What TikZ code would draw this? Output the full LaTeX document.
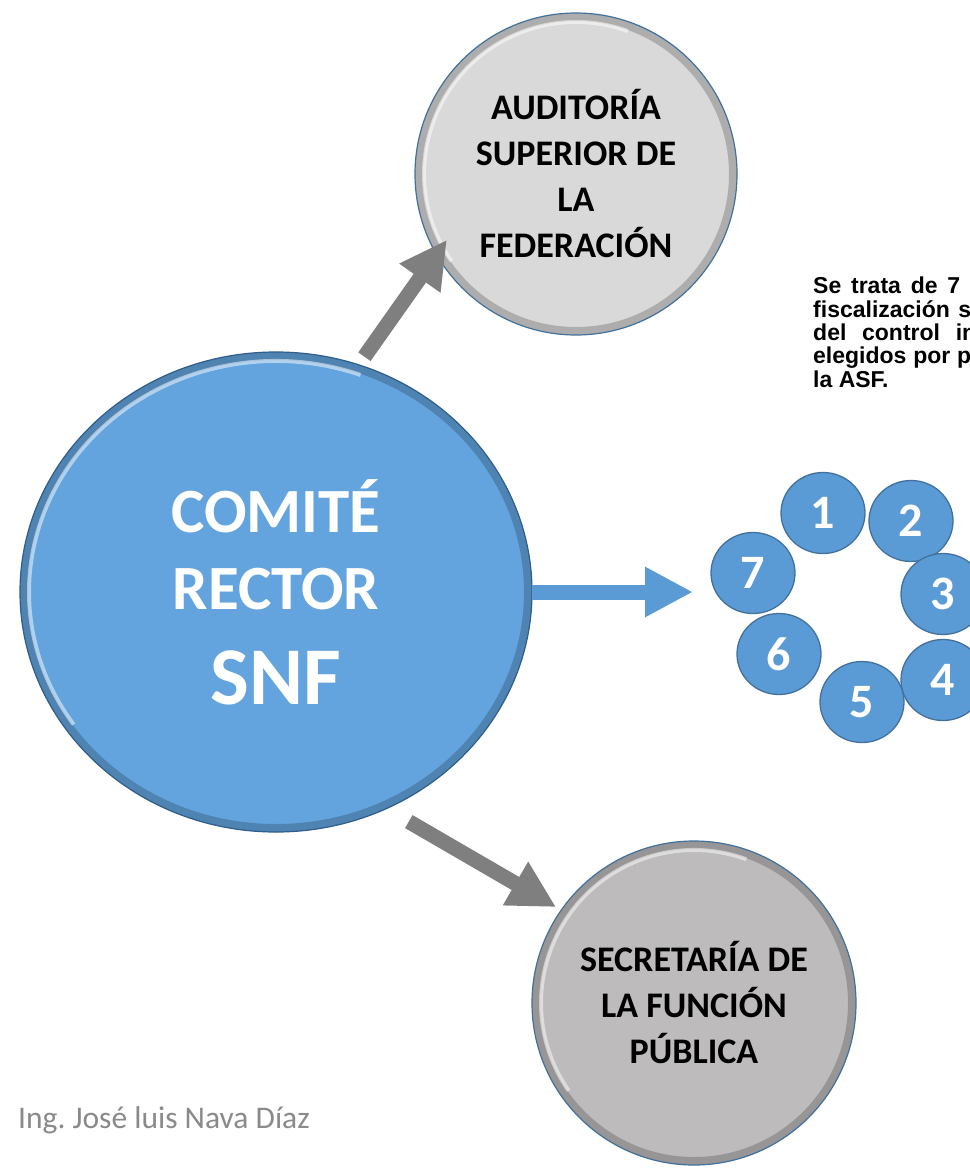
\documentclass[tikz,border=0pt]{standalone}
\usepackage{fontspec}
\setmainfont{Carlito}
\newfontfamily\arialfont{Liberation Sans}
\usetikzlibrary{calc,arrows.meta,positioning,shapes.geometric}

\definecolor{comiteblue}{HTML}{63A4DE}
\definecolor{comiteedge}{HTML}{2F5E8C}
\definecolor{memberblue}{HTML}{5B9BD5}
\definecolor{memberedge}{HTML}{41719C}
\definecolor{asfgray}{HTML}{D9D9D9}
\definecolor{sfpgray}{HTML}{BDBBBB}
\definecolor{arrowgray}{HTML}{7F7F7F}
\definecolor{footgray}{HTML}{8A8A8A}

\tikzset{
  bevel/.style={path picture={
    \draw[line width=16pt, black, opacity=.2]
      let \p1=(path picture bounding box.east), \p2=(path picture bounding box.center),
          \p3=(path picture bounding box.north), \n1={\x1-\x2}, \n3={\y3-\y2}
      in (\p2) circle[x radius=\n1, y radius=\n3];
    \draw[line width=4pt, white, opacity=.5]
      let \p1=(path picture bounding box.east), \p2=(path picture bounding box.center),
          \p3=(path picture bounding box.north), \n2={\x1-\x2-9pt}, \n4={\y3-\y2-9pt}
      in (\p2) ++(70:\n2 and \n4)
         arc[start angle=70, end angle=215, x radius=\n2, y radius=\n4];
  }},
  bigcircle/.style={ellipse, inner sep=0pt, outer sep=0pt, draw=#1, line width=1.2pt,
    bevel, align=center},
  member/.style={ellipse, minimum width=84pt, minimum height=81pt, inner sep=0pt,
    fill=memberblue, draw=memberedge, line width=1.3pt, text=white,
    font=\bfseries\fontsize{48}{48}\selectfont},
  garrow/.style={draw=arrowgray, line width=15pt, -{Triangle[length=47pt,width=47pt]}},
  barrow/.style={draw=memberblue, line width=15pt, -{Triangle[length=48pt,width=47pt]}}
}

\begin{document}
\begin{tikzpicture}[x=1pt, y=-1pt]
\fill[white] (0,0) rectangle (969,1172);
\useasboundingbox (0,0) rectangle (969,1172);

\node[bigcircle=memberedge, fill=asfgray, minimum width=322pt, minimum height=322pt,
  font=\bfseries\fontsize{36}{46}\selectfont] (asf) at (576,174)
  {AUDITORÍA\\SUPERIOR DE\\LA\\FEDERACIÓN};
\node[bigcircle=comiteedge, fill=comiteblue, minimum width=512pt, minimum height=480pt,
  text=white, font=\bfseries\fontsize{63}{77}\selectfont] (comite) at (276,592)
  {COMITÉ\\RECTOR\\[18pt]{\fontsize{82}{82}\selectfont SNF}};
\node[bigcircle=memberedge, fill=sfpgray, minimum width=324pt, minimum height=324pt,
  font=\bfseries\fontsize{36}{46}\selectfont] (sfp) at (694,1003)
  {SECRETARÍA DE\\LA FUNCIÓN\\PÚBLICA};

\foreach \n/\x/\y in {1/823/513, 2/911/521, 3/943/594, 4/943/680,
                      5/862/702, 6/779/654, 7/753/573}
  \node[member] (m\n) at (\x,\y) {\n};

\coordinate (ring) at (693,592);
\draw[garrow, shorten <=10pt, shorten >=-18pt] (comite.70) -- (asf.210);
\draw[barrow] (comite.east) -- (ring);
\draw[garrow, shorten <=26pt, shorten >=6pt] (comite.-63) -- (sfp.145);

\node[anchor=base west, inner sep=0pt, align=left,
  font=\arialfont\bfseries\fontsize{23}{23.3}\selectfont] (desc) at (813,387)
  {\hbox to 147pt{Se\hfill trata\hfill de\hfill 7}\\
   \hbox to 158pt{fiscalización\hfill s}\\
   \hbox to 163pt{del\hfill control\hfill in}\\
   \hbox to 158pt{elegidos\hfill por\hfill p}\\
   la ASF.};

\node[anchor=base west, inner sep=0pt, text=footgray,
  font=\fontsize{31.5}{31.5}\selectfont] (autor) at (18,1128) {Ing.\ José luis Nava Díaz};
\end{tikzpicture}
\end{document}
